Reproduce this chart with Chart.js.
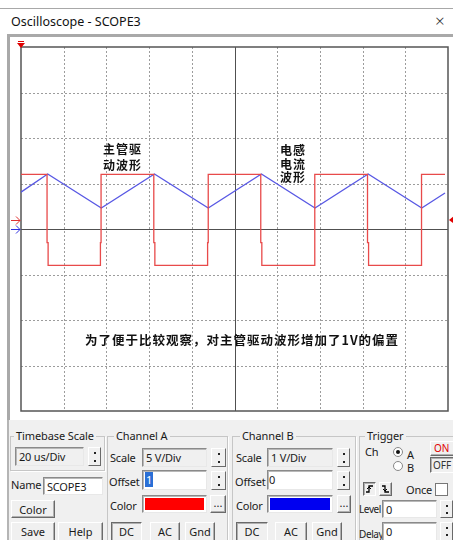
<!DOCTYPE html>
<html>
<head>
<meta charset="utf-8">
<script src="https://cdn.jsdelivr.net/npm/chart.js@4.4.0/dist/chart.umd.min.js"></script>
<style>
body{margin:0;width:453px;height:540px;overflow:hidden;background:#fff;position:relative;font-family:"Noto Sans",sans-serif;font-size:11px;color:#1a1a1a}
.a{position:absolute;white-space:nowrap}
.lb{position:absolute;white-space:nowrap;font-size:11px;line-height:14px;letter-spacing:-0.2px}
.ro,.tx{position:absolute;box-sizing:border-box;border:1px solid;border-color:#8a8a8a #e8e8e8 #e8e8e8 #8a8a8a;box-shadow:inset 1px 1px #b8b8b8;padding:1px 0 0 3px;font-size:11px;line-height:15px;letter-spacing:-0.2px;white-space:nowrap}
.ro{background:#f0f0f0}
.tx{background:#fff}
.bt{position:absolute;box-sizing:border-box;background:#f0f0f0;border:1px solid;border-color:#fff #6a6a6a #6a6a6a #fff;box-shadow:inset -1px -1px #b0b0b0;text-align:center;font-size:11px;line-height:17px;white-space:nowrap}
.dn{border-color:#6a6a6a #fff #fff #6a6a6a;box-shadow:inset 1px 1px #b0b0b0}
.sp{position:absolute;box-sizing:border-box;background:#f0f0f0;border:1px solid;border-color:#fff #6a6a6a #6a6a6a #fff}
.sp i{position:absolute;left:50%;width:2px;height:2px;margin-left:-1px;background:#222}
.grp{position:absolute;box-sizing:border-box;border:1px solid #c6c6c6;box-shadow:1px 1px #fff}
.lg{position:absolute;background:#f0f0f0;padding:0 2px;font-size:11px;line-height:14px;letter-spacing:-0.1px;white-space:nowrap}
.note{position:absolute;font-family:"Noto Sans CJK SC",sans-serif;font-weight:bold;color:#111;white-space:nowrap}
</style>
</head>
<body>
<div class="a" style="left:0;top:8px;width:453px;height:1px;background:#a8a8a8"></div>
<div class="a" style="left:11px;top:13px;font-size:12.5px;line-height:17px;color:#111">Oscilloscope - SCOPE3</div>
<div class="a" style="left:435px;top:11px;font-size:17px;line-height:20px;font-weight:300;color:#333">×</div>

<div class="a" style="left:7px;top:34px;width:443px;height:384px;border-top:3px solid #a9a9a9;border-left:3px solid #a9a9a9"></div>
<div class="a" style="left:11px;top:38px;width:442px;height:380px"><canvas id="scope"></canvas></div>

<div class="note" style="left:103px;top:141px;font-size:12px;line-height:16px;letter-spacing:1px">主管驱<br>动波形</div>
<div class="note" style="left:280px;top:143px;font-size:12px;line-height:13.5px;letter-spacing:1px">电感<br>电流<br>波形</div>
<div class="note" style="left:85px;top:332px;font-size:12.5px;line-height:16px;letter-spacing:1px">为了便于比较观察，对主管驱动波形增加了1V的偏置</div>

<div class="a" style="left:7px;top:420px;width:446px;height:120px;background:#f0f0f0;border-left:2px solid #b5b5b5"></div>

<!-- Timebase -->
<div class="grp" style="left:10px;top:436px;width:95px;height:35px"></div>
<div class="lg" style="left:14px;top:429px">Timebase Scale</div>
<div class="ro" style="left:15px;top:447px;width:69px;height:19px">20 us/Div</div>
<div class="sp" style="left:88px;top:447px;width:13px;height:19px"><i style="top:4px"></i><i style="top:12px"></i></div>
<div class="lb" style="left:11px;top:478px">Name</div>
<div class="tx" style="left:43px;top:477px;width:60px;height:18px">SCOPE3</div>
<div class="bt" style="left:11px;top:500px;width:44px;height:18px">Color</div>
<div class="bt" style="left:11px;top:522px;width:44px;height:20px">Save</div>
<div class="bt" style="left:58px;top:522px;width:45px;height:20px">Help</div>

<!-- Channel A -->
<div class="grp" style="left:107px;top:436px;width:121px;height:110px"></div>
<div class="lg" style="left:114px;top:429px">Channel A</div>
<div class="lb" style="left:110px;top:451px">Scale</div>
<div class="ro" style="left:142px;top:448px;width:65px;height:19px">5 V/Div</div>
<div class="sp" style="left:211px;top:448px;width:15px;height:19px"><i style="top:4px"></i><i style="top:12px"></i></div>
<div class="lb" style="left:109px;top:475px">Offset</div>
<div class="tx" style="left:142px;top:470px;width:65px;height:20px;padding-left:2px"><span style="background:#2a6fd6;color:#fff;padding:0 1px">1</span></div>
<div class="sp" style="left:211px;top:471px;width:15px;height:19px"><i style="top:4px"></i><i style="top:12px"></i></div>
<div class="lb" style="left:110px;top:499px">Color</div>
<div class="tx" style="left:142px;top:495px;width:65px;height:18px;padding:2px"><div style="width:100%;height:100%;background:#f00"></div></div>
<div class="bt" style="left:210px;top:495px;width:16px;height:18px;line-height:13px">...</div>
<div class="bt dn" style="left:111px;top:522px;width:31px;height:20px">DC</div>
<div class="bt" style="left:150px;top:522px;width:30px;height:20px">AC</div>
<div class="bt" style="left:185px;top:522px;width:30px;height:20px">Gnd</div>

<!-- Channel B -->
<div class="grp" style="left:232px;top:436px;width:124px;height:110px"></div>
<div class="lg" style="left:240px;top:429px">Channel B</div>
<div class="lb" style="left:236px;top:451px">Scale</div>
<div class="ro" style="left:267px;top:448px;width:66px;height:19px">1 V/Div</div>
<div class="sp" style="left:337px;top:448px;width:13px;height:19px"><i style="top:4px"></i><i style="top:12px"></i></div>
<div class="lb" style="left:235px;top:475px">Offset</div>
<div class="tx" style="left:267px;top:470px;width:66px;height:20px;padding-left:1px">0</div>
<div class="sp" style="left:337px;top:471px;width:13px;height:19px"><i style="top:4px"></i><i style="top:12px"></i></div>
<div class="lb" style="left:236px;top:499px">Color</div>
<div class="tx" style="left:267px;top:495px;width:66px;height:18px;padding:2px"><div style="width:100%;height:100%;background:#0000f0"></div></div>
<div class="bt" style="left:337px;top:495px;width:14px;height:18px;line-height:13px">...</div>
<div class="bt dn" style="left:236px;top:522px;width:32px;height:20px">DC</div>
<div class="bt" style="left:275px;top:522px;width:32px;height:20px">AC</div>
<div class="bt" style="left:312px;top:522px;width:30px;height:20px">Gnd</div>

<!-- Trigger -->
<div class="grp" style="left:359px;top:436px;width:100px;height:110px"></div>
<div class="lg" style="left:365px;top:429px">Trigger</div>
<div class="lb" style="left:365px;top:445px">Ch</div>
<div class="a" style="left:393px;top:447px;width:8px;height:8px;border-radius:50%;background:#fff;border:1px solid #888"><div style="margin:2px;width:4px;height:4px;border-radius:50%;background:#111"></div></div>
<div class="lb" style="left:407px;top:448px">A</div>
<div class="a" style="left:393px;top:461px;width:8px;height:8px;border-radius:50%;background:#fff;border:1px solid #888"></div>
<div class="lb" style="left:407px;top:461px">B</div>
<div class="bt" style="left:430px;top:441px;width:26px;height:15px;line-height:13px;color:#e00000;font-size:10px;text-align:left;padding-left:3px">ON</div>
<div class="bt dn" style="left:430px;top:457px;width:26px;height:16px;line-height:14px;font-size:10px;color:#333;text-align:left;padding-left:2px">OFF</div>
<div class="bt dn" style="left:363px;top:482px;width:13px;height:14px"><svg width="11" height="12" style="position:absolute;left:0;top:0"><polyline points="2,9 5,9 5,3 9,3" fill="none" stroke="#000" stroke-width="1.3"/><polyline points="3,6 5,4 7,6" fill="none" stroke="#000"/></svg></div>
<div class="bt" style="left:379px;top:482px;width:13px;height:14px"><svg width="11" height="12" style="position:absolute;left:0;top:0"><polyline points="2,3 5,3 5,9 9,9" fill="none" stroke="#000" stroke-width="1.3"/><polyline points="3,6 5,8 7,6" fill="none" stroke="#000"/></svg></div>
<div class="lb" style="left:406px;top:483px">Once</div>
<div class="a" style="left:435px;top:483px;width:11px;height:11px;background:#fff;border:1px solid #777"></div>
<div class="lb" style="left:359px;top:502px;font-size:10px;letter-spacing:-0.4px">Level</div>
<div class="tx" style="left:382px;top:500px;width:55px;height:18px">0</div>
<div class="sp" style="left:440px;top:500px;width:13px;height:18px"><i style="top:4px"></i><i style="top:11px"></i></div>
<div class="lb" style="left:359px;top:527px;font-size:10px;letter-spacing:-0.4px">Delay</div>
<div class="tx" style="left:382px;top:522px;width:55px;height:19px">0</div>
<div class="sp" style="left:440px;top:522px;width:13px;height:19px"><i style="top:4px"></i><i style="top:11px"></i></div>

<script>
// scope settings
const timePerDiv = 20;      // us/Div
const divsX = 10;
const divsY = 8;
const chAScale = 5, chAOffset = 1;   // V/Div, V
const chBScale = 1, chBOffset = 0;
const trigLevel = 0;

// channel A - main switch drive (V)
const chATime = [0, 12.2, 12.2, 12.7, 12.7, 37.2, 37.2, 37.5, 37.5,
  62.2, 62.2, 62.7, 62.7, 87.4, 87.4, 87.7, 87.7,
  112.3, 112.3, 112.8, 112.8, 137.4, 137.4, 137.7, 137.7,
  162.3, 162.3, 162.8, 162.8, 187.4, 187.4, 187.7, 187.7, 198.6];
const chAVolt = [5, 5, -2.5, -2.5, -5, -5, -2.5, -2.5, 5,
  5, -2.5, -2.5, -5, -5, -2.5, -2.5, 5,
  5, -2.5, -2.5, -5, -5, -2.5, -2.5, 5,
  5, -2.5, -2.5, -5, -5, -2.5, -2.5, 5, 5];

// channel B - inductor current (V)
const chBTime = [0, 12.5, 37.6, 62.5, 87.7, 112.6, 137.7, 162.6, 187.7, 198.6];
const chBVolt = [0.81, 1.21, 0.46, 1.21, 0.46, 1.21, 0.46, 1.21, 0.46, 0.79];

function toDiv(t, v, scale, off) {
  return t.map((x, i) => ({ x: x, y: (v[i] + off) / scale }));
}

function seg(ctx, x1, y1, x2, y2) {
  ctx.beginPath(); ctx.moveTo(x1, y1); ctx.lineTo(x2, y2); ctx.stroke();
}

const scopeScreen = {
  id: 'scopeScreen',
  beforeDatasetsDraw(chart) {
    const { ctx, chartArea: a, scales: { x, y } } = chart;
    ctx.save();
    ctx.lineWidth = 1;
    ctx.strokeStyle = '#9c9c9c';
    ctx.setLineDash([2, 2]);
    for (let i = 1; i < divsX; i++) {
      if (i === divsX / 2) continue;
      const px = Math.round(x.getPixelForValue(i * timePerDiv)) + 0.5;
      seg(ctx, px, a.top, px, a.bottom);
    }
    for (let j = -divsY / 2 + 1; j < divsY / 2; j++) {
      if (j === 0) continue;
      const py = Math.round(y.getPixelForValue(j)) + 0.5;
      seg(ctx, a.left, py, a.right, py);
    }
    ctx.setLineDash([]);
    ctx.strokeStyle = '#505050';
    const cx = Math.round(x.getPixelForValue(divsX / 2 * timePerDiv)) + 0.5;
    const cy = Math.round(y.getPixelForValue(0)) + 0.5;
    seg(ctx, cx, a.top, cx, a.bottom);
    seg(ctx, a.left, cy, a.right, cy);
    ctx.lineWidth = 1.5;
    ctx.strokeStyle = '#555';
    ctx.strokeRect(a.left, a.top, a.right - a.left, a.bottom - a.top);
    ctx.restore();
  },
  afterDatasetsDraw(chart) {
    const { ctx, chartArea: a, scales: { y } } = chart;
    ctx.save();
    // time marker at top left
    ctx.fillStyle = '#e00000';
    ctx.strokeStyle = '#e00000';
    ctx.lineWidth = 1;
    seg(ctx, a.left - 3, a.top - 5.5, a.left + 3, a.top - 5.5);
    ctx.beginPath();
    ctx.moveTo(a.left - 4, a.top - 4); ctx.lineTo(a.left + 4, a.top - 4); ctx.lineTo(a.left, a.top + 1);
    ctx.closePath(); ctx.fill();
    // channel ground markers
    const marks = [[chAOffset / chAScale, '#e03030'], [chBOffset / chBScale, '#3030e0']];
    marks.forEach(([d, c]) => {
      const py = Math.round(y.getPixelForValue(d)) + 0.5;
      ctx.strokeStyle = c;
      seg(ctx, a.left - 10, py, a.left - 1, py);
      ctx.beginPath();
      ctx.moveTo(a.left - 5, py - 4); ctx.lineTo(a.left - 1, py); ctx.lineTo(a.left - 5, py + 4);
      ctx.stroke();
    });
    // trigger level on the right
    const ty = y.getPixelForValue((trigLevel + chAOffset) / chAScale);
    ctx.fillStyle = '#e00000';
    ctx.beginPath();
    ctx.moveTo(a.right + 1, ty); ctx.lineTo(a.right + 6, ty - 4); ctx.lineTo(a.right + 6, ty + 4);
    ctx.closePath(); ctx.fill();
    ctx.restore();
  }
};

new Chart(document.getElementById('scope'), {
  type: 'scatter',
  data: {
    datasets: [
      {
        label: 'Channel A',
        data: toDiv(chATime, chAVolt, chAScale, chAOffset),
        showLine: true,
        borderColor: '#e84a4a',
        borderWidth: 1.3,
        pointRadius: 0,
        tension: 0
      },
      {
        label: 'Channel B',
        data: toDiv(chBTime, chBVolt, chBScale, chBOffset),
        showLine: true,
        borderColor: '#5858e4',
        borderWidth: 1.3,
        pointRadius: 0,
        tension: 0
      }
    ]
  },
  options: {
    responsive: true,
    maintainAspectRatio: false,
    animation: false,
    layout: { padding: { left: 10, top: 9, right: 5, bottom: 7 } },
    plugins: { legend: { display: false }, tooltip: { enabled: false } },
    scales: {
      x: { type: 'linear', min: 0, max: divsX * timePerDiv, display: false },
      y: { type: 'linear', min: -divsY / 2, max: divsY / 2, display: false }
    }
  },
  plugins: [scopeScreen]
});
</script>
</body>
</html>
